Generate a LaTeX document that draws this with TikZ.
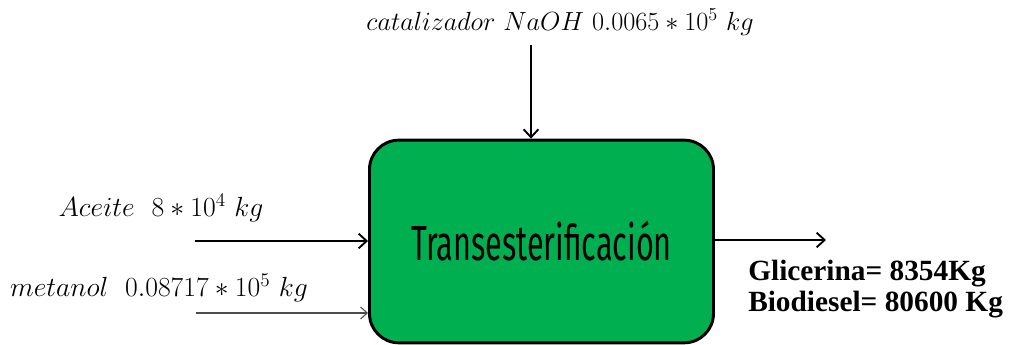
\documentclass[tikz,border=0pt]{standalone}
\usepackage{amsmath}
\usepackage{graphicx}
\usepackage{fontspec}
\newfontfamily\outfont{Liberation Serif}
\newfontfamily\procfont{Fira Sans}
\usetikzlibrary{arrows.meta,positioning}
\definecolor{procgreen}{RGB}{0,176,80}
\tikzset{
%Define standard arrow tip
>={Straight Barb[length=6pt, width=11pt]},
%Define styles for the process box and the streams
process/.style={draw, line width=2.2pt, fill=procgreen, rounded corners=22pt,
  minimum width=258pt, minimum height=152pt, inner sep=0pt},
stream/.style={->, line width=1.4pt},
thin stream/.style={-{Straight Barb[length=5pt, width=9pt]}, line width=0.8pt, black!70},
stream label/.style={inner sep=0pt, font=\fontsize{21}{23}\selectfont},
}
\begin{document}
\begin{tikzpicture}[x=0.75pt, y=-0.75pt]
    \useasboundingbox (0,0) rectangle (1014,345);
    %The reactor
    \node[process] (trans) at (541.5,241.5)
      {\procfont\fontsize{37}{40}\selectfont\scalebox{0.62}[1]{Transesterificación}};
    %Where the streams start and end
    \coordinate (cat) at (531,45);
    \coordinate (oil) at (195,241);
    \coordinate (met) at (196,313);
    \coordinate (out) at (826,240);
    %Feed streams
    \draw[stream] (cat) -- (cat |- trans.north);
    \draw[stream] (oil) -- (oil -| trans.west);
    \draw[thin stream] (met) -- (met -| trans.west);
    %Product stream
    \draw[stream] (out -| trans.east) -- (out);
    %Labels
    \node[stream label] (catlabel) at (560,22)
      {\scalebox{0.95}{$catalizador\ NaOH\ 0.0065\ast10^5\ kg$}};
    \node[stream label] (oillabel) at (161,208)
      {$Aceite\ \ 8\ast10^4\ kg$};
    \node[stream label] (metlabel) at (159,288)
      {$metanol\ \ 0.08717\ast10^5\ kg$};
    \node[anchor=west, align=left, inner sep=0pt, font=\outfont\bfseries\fontsize{22}{23}\selectfont]
      (prodlabel) at (748,289) {Glicerina= 8354Kg\\Biodiesel= 80600 Kg};
  \end{tikzpicture}
\end{document}
